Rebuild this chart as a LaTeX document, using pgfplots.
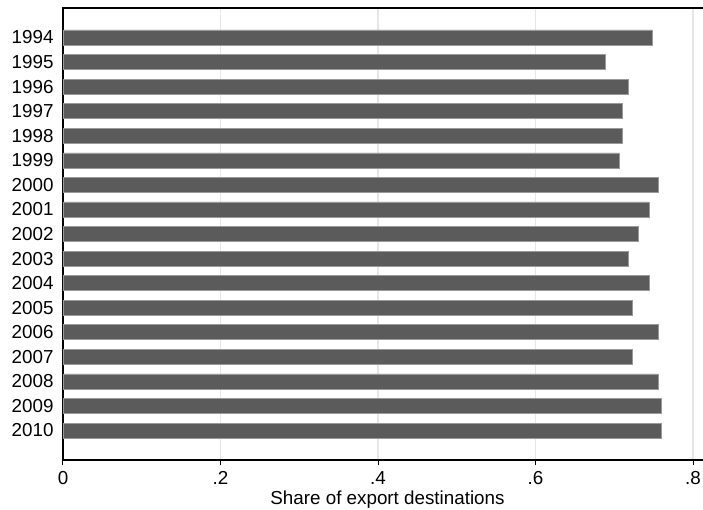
\documentclass[border=0pt]{standalone}
\usepackage{pgfplots}
\pgfplotsset{compat=1.18}
\usepackage{fontspec}
\setmainfont{Liberation Sans}
\definecolor{barfill}{HTML}{5B5B5B}
\definecolor{baredge}{HTML}{9A9A9A}
\definecolor{gridc}{HTML}{E6E6E6}
\begin{document}
\fontsize{18.8bp}{22bp}\selectfont
\begin{tikzpicture}
\begin{axis}[
  scale only axis, width=640bp, height=452bp,
  xmin=0, xmax=0.8127, ymin=-1.2, ymax=17.2, y dir=reverse,
  axis x line*=bottom, axis y line*=left,
  axis line style={line width=1.2bp, black},
  xtick={0,0.2,0.4,0.6,0.8}, xticklabels={0,.2,.4,.6,.8},
  xtick align=outside, major tick length=5bp,
  xtick style={line width=1bp, black},
  ytick={0,...,16},
  yticklabels={1994,1995,1996,1997,1998,1999,2000,2001,2002,2003,2004,2005,2006,2007,2008,2009,2010},
  ytick style={draw=none},
  xmajorgrids, grid style={gridc, line width=1.3bp},
  tick label style={font=\fontsize{18.8bp}{22bp}\selectfont},
  xticklabel style={anchor=base, yshift=-19bp},
  yticklabel style={anchor=east, xshift=-3bp},
  xlabel={Share of export destinations},
  xlabel style={at={(axis description cs:0.5,0)}, anchor=base, yshift=-44bp, xshift=4.5bp, font=\fontsize{18.8bp}{22bp}\selectfont},
]
\addplot[xbar, bar width=0.61, bar shift=0pt, fill=barfill, draw=baredge, line width=0.6bp] coordinates {
(0.748,0) (0.689,1) (0.718,2) (0.710,3) (0.710,4) (0.706,5) (0.756,6) (0.744,7) (0.731,8)
(0.718,9) (0.744,10) (0.7225,11) (0.756,12) (0.7225,13) (0.756,14) (0.760,15) (0.760,16)
};
\end{axis}
\draw[line width=1.2bp, black] ([xshift=-0.6bp]current axis.north west) -- (current axis.north east);
\pgfresetboundingbox
\path ([shift={(-63bp,-50bp)}]current axis.south west) rectangle ([shift={(0bp,8bp)}]current axis.north east);
\end{tikzpicture}
\end{document}
